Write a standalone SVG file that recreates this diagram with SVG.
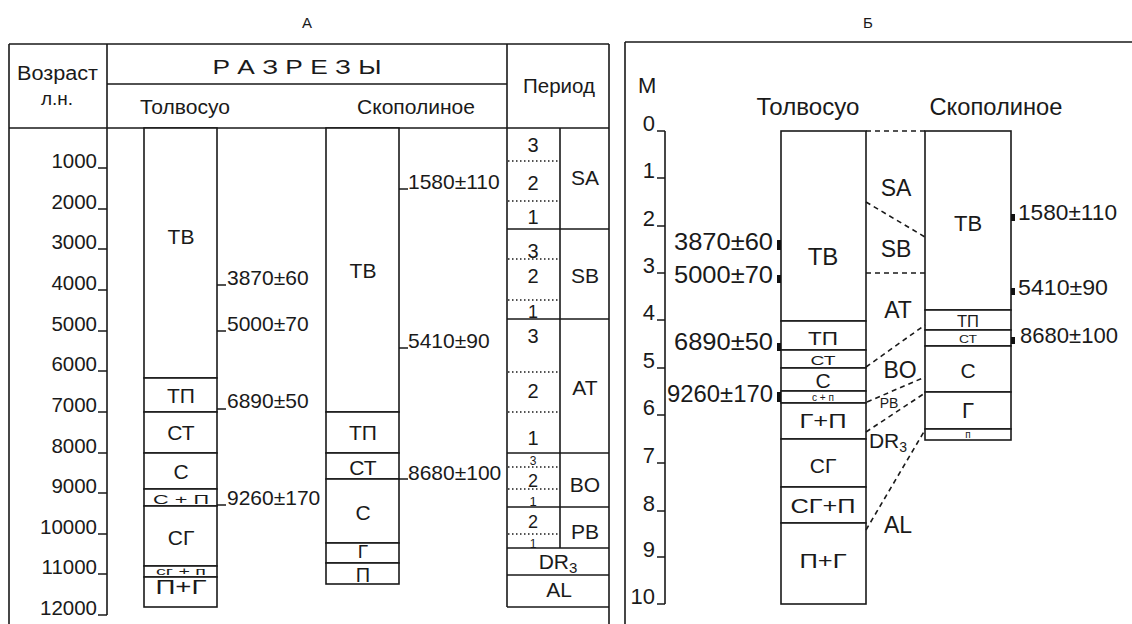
<svg xmlns="http://www.w3.org/2000/svg" width="1132" height="624" viewBox="0 0 1132 624">
<style>
text{font-family:"Liberation Sans",Arial,sans-serif;fill:#1a1a1a}
.ln{stroke:#1a1a1a;stroke-width:1.6;fill:none}
.lay{fill:#fff;stroke:#1a1a1a;stroke-width:1.6}
.dot{stroke:#1a1a1a;stroke-width:1.4;stroke-dasharray:1.5,2.5;fill:none}
.dash{stroke:#1a1a1a;stroke-width:1.6;stroke-dasharray:5,4;fill:none}
.mk{fill:#111}
.c{text-anchor:middle}
.e{text-anchor:end}
.t15{font-size:15px}
.t20{font-size:20px}
.t21{font-size:21px}
.t23{font-size:23px}
</style>
<rect width="1132" height="624" fill="#fff"/>

<!-- titles -->
<text class="c t15" x="307" y="28">А</text>
<text class="c t15" x="868" y="28">Б</text>

<!-- ===== Panel A frame ===== -->
<g id="panelA-frame">
  <path class="ln" d="M9,44 H609 M9,44 V630 M609,44 V630 M107,44 V615 M107,84 H507 M9,128 H609 M507,44 V607 M560,128 V548"/>
  <path class="ln" d="M507,229 H609 M507,319 H609 M507,453 H609 M507,507 H609 M507,548 H609 M507,575 H609 M507,607 H609"/>
  <path class="dot" d="M508,161 H560 M508,201 H560 M508,259 H560 M508,300 H560 M508,372 H560 M508,412 H560 M508,467 H560 M508,489 H560 M508,534 H560"/>
  <text class="c" x="57.5" y="80" font-size="19.5" textLength="81" lengthAdjust="spacingAndGlyphs">Возраст</text>
  <text class="c" x="57" y="105" font-size="19">л.н.</text>
  <text class="c" x="297" y="74" font-size="20" textLength="169" lengthAdjust="spacingAndGlyphs">Р А З Р Е З Ы</text>
  <text class="c" x="185" y="114" font-size="21" textLength="90" lengthAdjust="spacingAndGlyphs">Толвосуо</text>
  <text class="c" x="416" y="114" font-size="21" textLength="118" lengthAdjust="spacingAndGlyphs">Скополиное</text>
  <text class="c" x="559" y="93" font-size="21" textLength="72" lengthAdjust="spacingAndGlyphs">Период</text>
</g>

<!-- age axis -->
<g id="age-axis">
  <path class="ln" d="M98,168 H107 M98,209 H107 M98,249 H107 M98,290 H107 M98,331 H107 M98,371 H107 M98,412 H107 M98,453 H107 M98,493 H107 M98,534 H107 M98,574 H107 M98,615 H107"/>
  <g class="e" font-size="20.5">
    <text x="97" y="168">1000</text>
    <text x="97" y="209">2000</text>
    <text x="97" y="249">3000</text>
    <text x="97" y="290">4000</text>
    <text x="97" y="331">5000</text>
    <text x="97" y="371">6000</text>
    <text x="97" y="412">7000</text>
    <text x="97" y="453">8000</text>
    <text x="97" y="493">9000</text>
    <text x="97" y="534">10000</text>
    <text x="97" y="574">11000</text>
    <text x="97" y="615">12000</text>
  </g>
</g>

<!-- Tolvosuo (A) -->
<g id="A-tolv-TB"><rect class="lay" x="144" y="128" width="73" height="250"/><text class="c t21" x="181" y="244">ТВ</text></g>
<g id="A-tolv-TP"><rect class="lay" x="144" y="378" width="73" height="34"/><text class="c t21" x="181" y="403">ТП</text></g>
<g id="A-tolv-ST"><rect class="lay" x="144" y="412" width="73" height="41"/><text class="c t21" x="181" y="440">СТ</text></g>
<g id="A-tolv-S"><rect class="lay" x="144" y="453" width="73" height="36"/><text class="c t21" x="181" y="479">С</text></g>
<g id="A-tolv-SP"><rect class="lay" x="144" y="489" width="73" height="17"/><text class="c" x="181" y="504" font-size="13" textLength="56" lengthAdjust="spacingAndGlyphs">С + П</text></g>
<g id="A-tolv-SG"><rect class="lay" x="144" y="506" width="73" height="60"/><text class="c t21" x="181" y="545">СГ</text></g>
<g id="A-tolv-sgp"><rect class="lay" x="144" y="566" width="73" height="11"/><text class="c" x="181" y="575" font-size="10" textLength="50" lengthAdjust="spacingAndGlyphs">сг + п</text></g>
<g id="A-tolv-PG"><rect class="lay" x="144" y="577" width="73" height="30"/><text class="c" x="181" y="594" font-size="20" textLength="51" lengthAdjust="spacingAndGlyphs">П+Г</text></g>

<!-- Skopolinoe (A) -->
<g id="A-skop-TB"><rect class="lay" x="326" y="128" width="73" height="284"/><text class="c t21" x="363" y="278">ТВ</text></g>
<g id="A-skop-TP"><rect class="lay" x="326" y="412" width="73" height="41"/><text class="c t21" x="363" y="440">ТП</text></g>
<g id="A-skop-ST"><rect class="lay" x="326" y="453" width="73" height="26"/><text class="c t21" x="363" y="475">СТ</text></g>
<g id="A-skop-S"><rect class="lay" x="326" y="479" width="73" height="64"/><text class="c t21" x="363" y="520">С</text></g>
<g id="A-skop-G"><rect class="lay" x="326" y="543" width="73" height="20"/><text class="c" x="363" y="558" font-size="19">Г</text></g>
<g id="A-skop-P"><rect class="lay" x="326" y="563" width="73" height="21"/><text class="c" x="363" y="582" font-size="20">П</text></g>

<!-- dates A -->
<g id="A-dates">
  <path class="ln" d="M217,285 H226 M217,331 H226 M217,409 H226 M217,505 H226 M399,189 H408 M399,348 H408 M399,479 H408"/>
  <g font-size="21">
    <text x="227" y="285">3870±60</text>
    <text x="227" y="331">5000±70</text>
    <text x="227" y="408">6890±50</text>
    <text x="227" y="505">9260±170</text>
    <text x="408" y="189">1580±110</text>
    <text x="408" y="348">5410±90</text>
    <text x="408" y="480">8680±100</text>
  </g>
</g>

<!-- periods A -->
<g id="A-periods" class="c">
  <g font-size="20">
    <text x="533" y="152">3</text>
    <text x="533" y="190">2</text>
    <text x="533" y="224">1</text>
    <text x="533" y="258">3</text>
    <text x="533" y="283">2</text>
    <text x="533" y="318" font-size="18">1</text>
    <text x="533" y="343">3</text>
    <text x="533" y="398">2</text>
    <text x="533" y="445">1</text>
    <text x="533" y="465" font-size="12">3</text>
    <text x="533" y="487" font-size="18">2</text>
    <text x="533" y="506" font-size="13">1</text>
    <text x="533" y="528" font-size="18">2</text>
    <text x="533" y="548" font-size="12">1</text>
  </g>
  <g font-size="21">
    <text x="585" y="185">SA</text>
    <text x="585" y="283">SB</text>
    <text x="585" y="395">AT</text>
    <text x="585" y="492">BO</text>
    <text x="585" y="539">PB</text>
    <text x="558" y="569">DR<tspan font-size="15" dy="4">3</tspan></text>
    <text x="559" y="597">AL</text>
  </g>
</g>

<!-- ===== Panel B ===== -->
<g id="panelB-frame">
  <path class="ln" d="M625,42 H1140 M625,42 V630"/>
  <text x="638" y="93" font-size="22">М</text>
  <text class="c" x="808" y="115" font-size="23.5" textLength="103" lengthAdjust="spacingAndGlyphs">Толвосуо</text>
  <text class="c" x="996" y="115" font-size="23.5" textLength="133" lengthAdjust="spacingAndGlyphs">Скополиное</text>
</g>

<g id="depth-axis">
  <path class="ln" d="M665,131 V604 M657,131 H665 M657,178 H665 M657,226 H665 M657,273 H665 M657,320 H665 M657,368 H665 M657,415 H665 M657,463 H665 M657,511 H665 M657,557 H665 M657,604 H665"/>
  <g class="e" font-size="22">
    <text x="655" y="131">0</text>
    <text x="655" y="178">1</text>
    <text x="655" y="226">2</text>
    <text x="655" y="273">3</text>
    <text x="655" y="320">4</text>
    <text x="655" y="368">5</text>
    <text x="655" y="415">6</text>
    <text x="655" y="463">7</text>
    <text x="655" y="511">8</text>
    <text x="655" y="557">9</text>
    <text x="655" y="604">10</text>
  </g>
</g>

<!-- Tolvosuo (B) -->
<g id="B-tolv-TB"><rect class="lay" x="781" y="131" width="85" height="190"/><text class="c" x="823" y="265" font-size="24">ТВ</text></g>
<g id="B-tolv-TP"><rect class="lay" x="781" y="321" width="85" height="29"/><text class="c" x="823" y="345" font-size="19" textLength="30" lengthAdjust="spacingAndGlyphs">ТП</text></g>
<g id="B-tolv-ST"><rect class="lay" x="781" y="350" width="85" height="18"/><text class="c" x="823" y="365" font-size="13" textLength="25" lengthAdjust="spacingAndGlyphs">СТ</text></g>
<g id="B-tolv-S"><rect class="lay" x="781" y="368" width="85" height="23"/><text class="c" x="823" y="388" font-size="21">С</text></g>
<g id="B-tolv-sp"><rect class="lay" x="781" y="391" width="85" height="12"/><text class="c" x="823" y="401" font-size="10" textLength="22" lengthAdjust="spacingAndGlyphs">с + п</text></g>
<g id="B-tolv-GP"><rect class="lay" x="781" y="403" width="85" height="36"/><text class="c" x="823" y="428" font-size="21" textLength="47" lengthAdjust="spacingAndGlyphs">Г+П</text></g>
<g id="B-tolv-SG"><rect class="lay" x="781" y="439" width="85" height="48"/><text class="c" x="823" y="473" font-size="21">СГ</text></g>
<g id="B-tolv-SGP"><rect class="lay" x="781" y="487" width="85" height="36"/><text class="c" x="823" y="513" font-size="21" textLength="65" lengthAdjust="spacingAndGlyphs">СГ+П</text></g>
<g id="B-tolv-PG"><rect class="lay" x="781" y="523" width="85" height="81"/><text class="c" x="823" y="568" font-size="21" textLength="47" lengthAdjust="spacingAndGlyphs">П+Г</text></g>

<!-- Skopolinoe (B) -->
<g id="B-skop-TB"><rect class="lay" x="925" y="131" width="86" height="179"/><text class="c" x="968" y="231" font-size="22">ТВ</text></g>
<g id="B-skop-TP"><rect class="lay" x="925" y="310" width="86" height="20"/><text class="c" x="968" y="327" font-size="16" textLength="22" lengthAdjust="spacingAndGlyphs">ТП</text></g>
<g id="B-skop-ST"><rect class="lay" x="925" y="330" width="86" height="16"/><text class="c" x="968" y="343" font-size="11" textLength="18" lengthAdjust="spacingAndGlyphs">СТ</text></g>
<g id="B-skop-S"><rect class="lay" x="925" y="346" width="86" height="46"/><text class="c" x="968" y="378" font-size="21">С</text></g>
<g id="B-skop-G"><rect class="lay" x="925" y="392" width="86" height="37"/><text class="c" x="968" y="418" font-size="22">Г</text></g>
<g id="B-skop-p"><rect class="lay" x="925" y="429" width="86" height="11"/><text class="c" x="968" y="438" font-size="10">п</text></g>

<!-- dates B -->
<g id="B-dates">
  <rect class="mk" x="777" y="240" width="4" height="10"/>
  <rect class="mk" x="777" y="275" width="4" height="8"/>
  <rect class="mk" x="777" y="343" width="4" height="8"/>
  <rect class="mk" x="777" y="392" width="4" height="10"/>
  <rect class="mk" x="1011" y="214" width="4" height="7"/>
  <rect class="mk" x="1011" y="288" width="4" height="7"/>
  <rect class="mk" x="1011" y="337" width="4" height="7"/>
  <g class="e">
    <text x="773" y="250" font-size="24" textLength="99" lengthAdjust="spacingAndGlyphs">3870±60</text>
    <text x="773" y="283" font-size="24" textLength="99" lengthAdjust="spacingAndGlyphs">5000±70</text>
    <text x="773" y="350" font-size="24" textLength="99" lengthAdjust="spacingAndGlyphs">6890±50</text>
    <text x="773" y="402" font-size="24" textLength="106" lengthAdjust="spacingAndGlyphs">9260±170</text>
  </g>
  <g font-size="22.5">
    <text x="1018" y="220" textLength="99" lengthAdjust="spacingAndGlyphs">1580±110</text>
    <text x="1018" y="295" textLength="90" lengthAdjust="spacingAndGlyphs">5410±90</text>
    <text x="1020" y="343" textLength="98" lengthAdjust="spacingAndGlyphs">8680±100</text>
  </g>
</g>

<!-- correlation connectors -->
<g id="connectors">
  <path class="dash" d="M866,131 H925"/>
  <path class="dash" d="M866,202 L925,237"/>
  <path class="dash" d="M866,273 H925"/>
  <path class="dash" d="M866,367 L925,325"/>
  <path class="dash" d="M867,402 L925,377"/>
  <path class="dash" d="M866,432 L925,393"/>
  <path class="dash" d="M866,530 L925,430"/>
</g>

<!-- period labels B -->
<g id="B-periods" class="c" font-size="23">
  <text x="896" y="196">SA</text>
  <text x="896" y="257">SB</text>
  <text x="898" y="318">AT</text>
  <text x="900" y="378">BO</text>
  <text x="889" y="408" font-size="14">PB</text>
  <text x="888" y="448" font-size="21">DR<tspan font-size="14" dy="4">3</tspan></text>
  <text x="898" y="533">AL</text>
</g>
</svg>
